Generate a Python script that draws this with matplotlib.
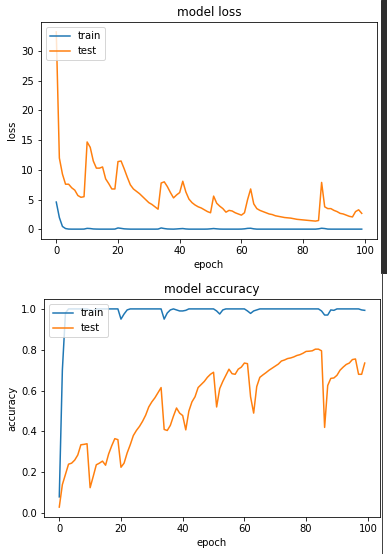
import numpy as np
import matplotlib
matplotlib.use('Agg')
import matplotlib.pyplot as plt
from matplotlib.patches import Rectangle
from matplotlib.lines import Line2D

# Training history, 100 epochs
epochs = np.arange(100)

train_loss = [4.6, 2.0, 0.5, 0.15, 0.06, 0.05, 0.05, 0.05, 0.05, 0.06,
              0.18, 0.15, 0.08, 0.06, 0.05, 0.05, 0.05, 0.05, 0.05, 0.06,
              0.25, 0.18, 0.1, 0.07, 0.05, 0.05, 0.05, 0.05, 0.05, 0.05,
              0.05, 0.05, 0.05, 0.06, 0.25, 0.15, 0.08, 0.06, 0.05, 0.08,
              0.12, 0.15, 0.08, 0.05, 0.05, 0.05, 0.05, 0.05, 0.05, 0.06,
              0.1, 0.15, 0.1, 0.06, 0.05, 0.05, 0.05, 0.05, 0.05, 0.05,
              0.06, 0.1, 0.18, 0.2, 0.1, 0.05, 0.05, 0.05, 0.05, 0.05,
              0.05, 0.05, 0.05, 0.05, 0.05, 0.05, 0.05, 0.05, 0.05, 0.05,
              0.05, 0.05, 0.05, 0.05, 0.05, 0.1, 0.2, 0.15, 0.06, 0.05,
              0.05, 0.05, 0.05, 0.05, 0.05, 0.05, 0.05, 0.05, 0.05, 0.05]

test_loss = [33.2, 12.0, 9.3, 7.6, 7.6, 7.0, 6.6, 5.7, 5.4, 5.5,
             14.7, 13.8, 11.5, 10.3, 10.3, 10.5, 8.5, 7.7, 6.8, 6.8,
             11.4, 11.5, 10.2, 8.8, 7.5, 6.8, 6.4, 6.0, 5.5, 5.0,
             4.5, 4.2, 3.8, 3.4, 7.8, 8.0, 7.2, 6.2, 5.3, 5.8,
             6.2, 8.1, 6.3, 5.1, 4.5, 4.1, 3.8, 3.6, 3.3, 3.0,
             2.8, 5.6, 4.4, 3.9, 3.5, 2.9, 3.2, 3.1, 2.8, 2.6,
             2.4, 2.8, 5.0, 6.8, 4.3, 3.5, 3.2, 3.0, 2.8, 2.6,
             2.5, 2.3, 2.2, 2.1, 2.0, 1.95, 1.9, 1.8, 1.7, 1.65,
             1.6, 1.55, 1.5, 1.45, 1.4, 1.5, 7.9, 3.8, 3.5, 3.5,
             3.2, 3.0, 2.7, 2.6, 2.4, 2.2, 2.1, 3.0, 3.3, 2.7]

train_acc = [0.08, 0.7, 0.98, 1.0, 1.0, 1.0, 1.0, 1.0, 1.0, 1.0,
             0.995, 0.99, 1.0, 1.0, 1.0, 1.0, 1.0, 1.0, 1.0, 1.0,
             0.95, 0.975, 0.995, 1.0, 1.0, 1.0, 1.0, 1.0, 1.0, 1.0,
             1.0, 1.0, 1.0, 1.0, 0.95, 0.98, 0.995, 1.0, 0.995, 0.99,
             0.99, 0.993, 1.0, 1.0, 1.0, 1.0, 1.0, 1.0, 1.0, 1.0,
             1.0, 0.99, 0.975, 0.995, 1.0, 1.0, 1.0, 1.0, 1.0, 1.0,
             1.0, 0.99, 0.978, 0.99, 0.995, 1.0, 1.0, 1.0, 1.0, 1.0,
             1.0, 1.0, 1.0, 1.0, 1.0, 1.0, 1.0, 1.0, 1.0, 1.0,
             1.0, 1.0, 1.0, 1.0, 1.0, 0.99, 0.97, 0.97, 0.995, 0.993,
             1.0, 1.0, 1.0, 1.0, 1.0, 1.0, 1.0, 1.0, 0.995, 0.993]

test_acc = [0.03, 0.14, 0.19, 0.24, 0.245, 0.26, 0.285, 0.335, 0.337, 0.34,
            0.125, 0.18, 0.237, 0.245, 0.255, 0.235, 0.29, 0.33, 0.365, 0.36,
            0.225, 0.245, 0.295, 0.335, 0.38, 0.405, 0.425, 0.45, 0.48, 0.52,
            0.545, 0.565, 0.59, 0.615, 0.41, 0.405, 0.43, 0.475, 0.515, 0.49,
            0.478, 0.408, 0.5, 0.545, 0.57, 0.615, 0.63, 0.645, 0.665, 0.68,
            0.69, 0.52, 0.61, 0.645, 0.675, 0.705, 0.683, 0.68, 0.705, 0.715,
            0.735, 0.732, 0.57, 0.49, 0.62, 0.665, 0.677, 0.688, 0.70, 0.71,
            0.72, 0.73, 0.745, 0.75, 0.757, 0.76, 0.765, 0.772, 0.776, 0.783,
            0.792, 0.793, 0.795, 0.803, 0.803, 0.795, 0.42, 0.625, 0.66, 0.662,
            0.675, 0.70, 0.715, 0.728, 0.735, 0.752, 0.755, 0.68, 0.68, 0.735]

W, H = 387, 554
fig = plt.figure(figsize=(W / 72, H / 72), dpi=72)

# Top panel: loss
ax1 = fig.add_axes([41 / W, 1 - 239 / H, 336 / W, 217 / H])
ax1.plot(epochs, train_loss, label='train')
ax1.plot(epochs, test_loss, label='test')
ax1.set_title('model loss')
ax1.set_ylabel('loss')
ax1.set_xlabel('epoch')
ax1.legend(loc='upper left')

# Bottom panel: accuracy
ax2 = fig.add_axes([44 / W, 1 - 517 / H, 336 / W, 218 / H])
ax2.plot(epochs, train_acc, label='train')
ax2.plot(epochs, test_acc, label='test')
ax2.set_title('model accuracy')
ax2.set_ylabel('accuracy')
ax2.set_xlabel('epoch')
ax2.legend(loc='upper left')

# notebook scrollbar on the right edge of the screenshot
fig.patches.append(Rectangle((381 / W, 1 - 273 / H), 6 / W, 273 / H,
                             transform=fig.transFigure, color='#2e2e2e'))
fig.lines.append(Line2D([381.5 / W, 381.5 / W], [0, 1 - 273 / H],
                        transform=fig.transFigure, color='#444444', lw=1))

fig.savefig('out.png', dpi=72)
